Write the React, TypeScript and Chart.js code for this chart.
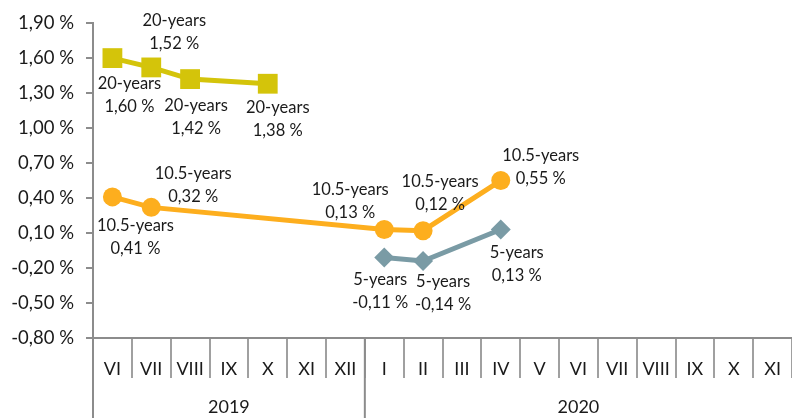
import React, { useEffect, useRef } from "react";
import { Chart, registerables } from "chart.js";

Chart.register(...registerables);

const months = ["VI", "VII", "VIII", "IX", "X", "XI", "XII", "I", "II", "III", "IV", "V", "VI", "VII", "VIII", "IX", "X", "XI"];
const years = [
  { label: "2019", from: 0, to: 6 },
  { label: "2020", from: 7, to: 17 },
];
const yearsSeries20 = [1.6, 1.52, 1.42, null, 1.38, null, null, null, null, null, null, null, null, null, null, null, null, null];
const yearsSeries105 = [0.41, 0.32, null, null, null, null, null, 0.13, 0.12, null, 0.55, null, null, null, null, null, null, null];
const yearsSeries5 = [null, null, null, null, null, null, null, -0.11, -0.14, null, 0.13, null, null, null, null, null, null, null];
const seriesNames = ["20-years", "10.5-years", "5-years"];

// label offsets (dx, dy of first line) relative to each point
const labelOffsets: Record<number, Record<number, [number, number]>> = {
  0: { 0: [17, 26], 1: [23, -47], 2: [6, 27], 4: [10, 24] },
  1: { 0: [23, 29], 1: [42, -34], 7: [-34, -40], 8: [17, -49], 10: [40, -25] },
  2: { 7: [-4, 22], 8: [20, 21], 10: [16, 23] },
};

const FONT = "Lato, 'Open Sans', sans-serif";
const AXIS = "#8c8c8c";
const TEXT = "#1a1a1a";

const fmt = (v: number) => v.toFixed(2).replace(".", ",").replace("-0,00", "0,00") + " %";

const labelPlugin = {
  id: "pointLabels",
  afterDatasetsDraw(chart: any) {
    const ctx = chart.ctx;
    ctx.save();
    ctx.font = `16.5px ${FONT}`;
    ctx.fillStyle = TEXT;
    ctx.textAlign = "center";
    ctx.textBaseline = "middle";
    chart.data.datasets.forEach((ds: any, di: number) => {
      const meta = chart.getDatasetMeta(di);
      ds.data.forEach((v: number | null, i: number) => {
        if (v === null) return;
        const el = meta.data[i];
        const off = (labelOffsets[di] && labelOffsets[di][i]) || [0, -30];
        const x = el.x + off[0];
        const y = el.y + off[1];
        ctx.fillText(seriesNames[di], x, y);
        ctx.fillText(fmt(v), x, y + 23);
      });
    });
    ctx.restore();
  },
};

const yearPlugin = {
  id: "yearRow",
  afterDraw(chart: any) {
    const ctx = chart.ctx;
    const xs = chart.scales.x;
    const ys = chart.scales.y;
    const bottom = chart.height;
    const top = ys.bottom;
    const half = (xs.getPixelForValue(1) - xs.getPixelForValue(0)) / 2;
    ctx.save();
    ctx.strokeStyle = AXIS;
    ctx.lineWidth = 2;
    ctx.font = `18px ${FONT}`;
    ctx.fillStyle = TEXT;
    ctx.textAlign = "center";
    ctx.textBaseline = "middle";
    years.forEach((yr) => {
      const x0 = xs.getPixelForValue(yr.from) - half;
      const x1 = xs.getPixelForValue(yr.to) + half;
      ctx.beginPath();
      ctx.moveTo(x0, top);
      ctx.lineTo(x0, bottom);
      ctx.stroke();
      ctx.fillText(yr.label, (x0 + x1) / 2, 407);
    });
    ctx.restore();
  },
};

export default function App() {
  const ref = useRef<HTMLCanvasElement>(null);
  useEffect(() => {
    if (!ref.current) return;
    const chart = new Chart(ref.current, {
      type: "line",
      data: {
        labels: months,
        datasets: [
          {
            label: seriesNames[0],
            data: yearsSeries20,
            borderColor: "#d4c40a",
            backgroundColor: "#d4c40a",
            borderWidth: 5,
            pointStyle: "rect",
            pointRadius: 14,
            pointBorderWidth: 0,
            spanGaps: true,
          },
          {
            label: seriesNames[1],
            data: yearsSeries105,
            borderColor: "#fdae1e",
            backgroundColor: "#fdae1e",
            borderWidth: 5,
            pointStyle: "circle",
            pointRadius: 9.5,
            pointBorderWidth: 0,
            spanGaps: true,
          },
          {
            label: seriesNames[2],
            data: yearsSeries5,
            borderColor: "#7a9ba5",
            backgroundColor: "#7a9ba5",
            borderWidth: 5,
            pointStyle: "rectRot",
            pointRadius: 10,
            pointBorderWidth: 0,
            spanGaps: true,
          },
        ],
      },
      options: {
        responsive: false,
        maintainAspectRatio: false,
        animation: false,
        devicePixelRatio: 1,
        layout: { autoPadding: false, padding: { top: 23, right: 0, left: 0, bottom: 0 } },
        plugins: { legend: { display: false }, tooltip: { enabled: false } },
        scales: {
          x: {
            offset: true,
            grid: {
              offset: true,
              drawOnChartArea: false,
              drawTicks: true,
              tickLength: 40,
              color: "#a0a0a0",
              lineWidth: 2,
            },
            border: { color: AXIS, width: 2 },
            ticks: {
              color: TEXT,
              font: { family: FONT, size: 18 },
              padding: -20,
              autoSkip: false,
              maxRotation: 0,
            },
            afterFit: (s: any) => {
              s.height = 80;
              s.paddingRight = 0;
              s.paddingLeft = 0;
            },
          },
          y: {
            min: -0.8,
            max: 1.9,
            grid: {
              drawOnChartArea: false,
              drawTicks: true,
              tickLength: 7,
              color: AXIS,
              lineWidth: 2,
            },
            border: { color: AXIS, width: 2 },
            ticks: {
              stepSize: 0.3,
              color: TEXT,
              font: { family: FONT, size: 18.5 },
              padding: 12,
              callback: (v: any) => fmt(Number(v)),
            },
            afterFit: (s: any) => {
              s.width = 93;
            },
          },
        },
      },
      plugins: [labelPlugin, yearPlugin],
    });
    return () => chart.destroy();
  }, []);
  return (
    <div style={{ position: "fixed", left: 0, top: 0, width: 792, height: 418, background: "#fff" }}>
      <canvas ref={ref} width={792} height={418} style={{ display: "block" }} />
    </div>
  );
}
